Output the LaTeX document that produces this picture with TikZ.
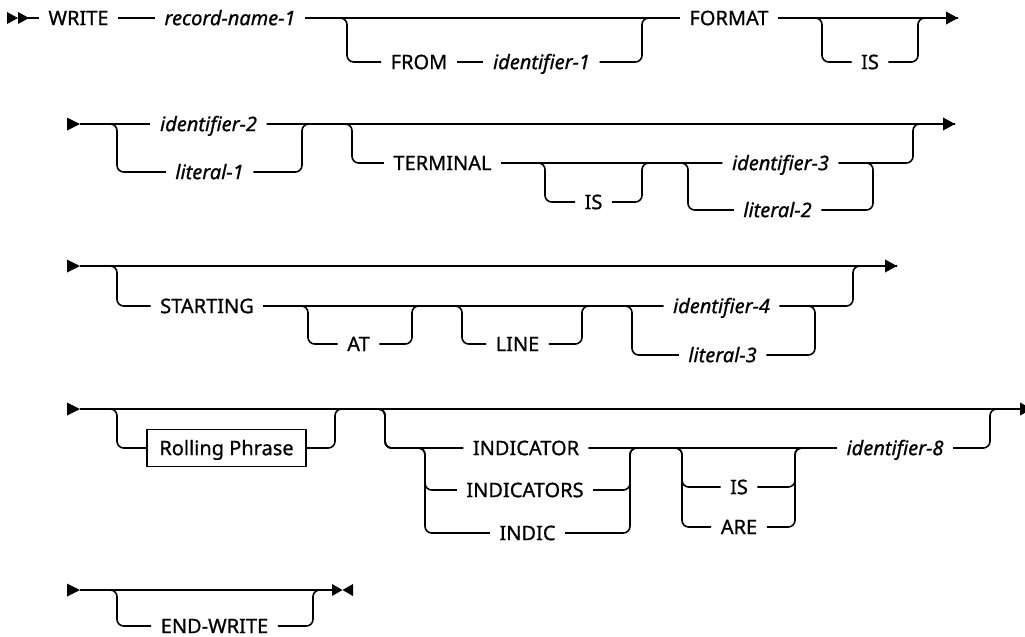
\documentclass[tikz,border=0pt]{standalone}
\usepackage{fontspec}
\newfontfamily\diafont[FakeBold=0.8]{Noto Sans}
\usetikzlibrary{arrows.meta}
\begin{document}
\begin{tikzpicture}[x=0.75pt,y=-0.75pt,
  ln/.style={line width=1.2pt},
  rr/.style={line width=1.2pt,rounded corners=5pt},
  arr/.style={line width=1.2pt,-{Triangle[length=9pt,width=9.5pt]}},
  kw/.style={font=\diafont\bfseries\fontsize{15pt}{18pt}\selectfont,inner xsep=7pt,inner ysep=0pt,text height=10.7pt,text depth=0pt},
  var/.style={kw,font=\diafont\bfseries\itshape\fontsize{15pt}{18pt}\selectfont},
  box/.style={kw,draw,line width=1.2pt,minimum width=119pt,minimum height=27.5pt,inner xsep=0pt},
  tri/.style={fill=black}]
\fill[white] (0,0) rectangle (1025,636);
\useasboundingbox (0,0) rectangle (1025,636);
% ---------- Row 1 ----------
\fill[tri] (7,12) -- (18,18) -- (7,24) -- cycle;
\fill[tri] (18,12) -- (29,18) -- (18,24) -- cycle;
\coordinate (s1) at (28,18);
\node[kw] (write) at (78.5,18) {WRITE};
\node[var] (rec) at (230,18) {record-name-1};
\node[kw] (from) at (419,62) {FROM};
\node[var] (id1) at (541.5,62) {identifier-1};
\node[kw] (fmt) at (729,18) {FORMAT};
\node[kw] (is1) at (870,62) {IS};
\coordinate (e1) at (958,18);
\draw[ln] (s1) -- (write.west);
\draw[ln] (write.east) -- (rec.west);
\draw[ln] (rec.east) -- (fmt.west);
\draw[rr] (rec.east) -| (347,62) -- (from.west);
\draw[ln] (from.east) -- (id1.west);
\draw[rr] (id1.east) -| (642,18) -- (fmt.west);
\draw[arr] (fmt.east) -- (e1);
\draw[rr] (fmt.east) -| (822,62) -- (is1.west);
\draw[rr] (is1.east) -| (918,18) -- (e1);
% ---------- Row 2 ----------
\fill[tri] (67,117.5) -- (80,124) -- (67,130.5) -- cycle;
\coordinate (s2) at (80,124);
\node[var] (id2) at (208.5,124) {identifier-2};
\node[var] (lit1) at (209.5,172) {literal-1};
\node[kw] (term) at (442.5,163) {TERMINAL};
\node[kw] (is2) at (593.5,202) {IS};
\node[var] (id3) at (780.5,163) {identifier-3};
\node[var] (lit2) at (777.5,210) {literal-2};
\coordinate (e2) at (955,124);
\draw[ln] (s2) -- (id2.west);
\draw[arr] (id2.east) -- (e2);
\draw[rr] (s2) -| (117,172) -- (lit1.west);
\draw[rr] (lit1.east) -| (302,124) -- (id2.east -| e2);
\draw[rr] (id2.east) -| (352,163) -- (term.west);
\draw[ln] (term.east) -- (id3.west);
\draw[rr] (term.east) -| (545,202) -- (is2.west);
\draw[rr] (is2.east) -| (642,163) -- (id3.west);
\draw[rr] (term.east) -| (688,210) -- (lit2.west);
\draw[rr] (lit2.east) -| (873,163) -- (id3.east);
\draw[rr] (id3.east) -| (913,124) -- (e2);
% ---------- Row 3 ----------
\fill[tri] (67,259.5) -- (80,266) -- (67,272.5) -- cycle;
\coordinate (s3) at (80,266);
\node[kw] (start) at (207,306) {STARTING};
\node[kw] (at) at (358.5,344) {AT};
\node[kw] (line) at (517.5,344) {LINE};
\node[var] (id4) at (721.5,306) {identifier-4};
\node[var] (lit3) at (722.5,355) {literal-3};
\coordinate (e3) at (897,266);
\draw[arr] (s3) -- (e3);
\draw[rr] (s3) -| (117,306) -- (start.west);
\draw[ln] (start.east) -- (id4.west);
\draw[rr] (start.east) -| (308,344) -- (at.west);
\draw[rr] (at.east) -| (412,306) -- (id4.west);
\draw[rr] (start.east) -| (462,344) -- (line.west);
\draw[rr] (line.east) -| (582,306) -- (id4.west);
\draw[rr] (start.east) -| (632,355) -- (lit3.west);
\draw[rr] (lit3.east) -| (815,306) -- (id4.east);
\draw[rr] (id4.east) -| (853,266) -- (e3);
% ---------- Row 4 ----------
\fill[tri] (67,402.5) -- (80,409) -- (67,415.5) -- cycle;
\coordinate (s4) at (80,409);
\node[box] (rp) at (226.5,448) {Rolling Phrase};
\node[kw] (ind) at (526,448) {INDICATOR};
\node[kw] (inds) at (525,490) {INDICATORS};
\node[kw] (indic) at (527.5,533) {INDIC};
\node[kw] (is4) at (739,487) {IS};
\node[kw] (are) at (739,527) {ARE};
\node[var] (id8) at (895,448) {identifier-8};
\coordinate (e4) at (1032,409);
\draw[arr] (s4) -- (e4);
\draw[rr] (s4) -| (117,448) -- (rp.west);
\draw[rr] (rp.east) -| (335,409) -- (e4);
\draw[rr] (s4) -| (385,448) -- (ind.west);
\draw[rr] (s4) -| (385,448) -| (425,490) -- (inds.west);
\draw[rr] (s4) -| (385,448) -| (425,533) -- (indic.west);
\draw[ln] (ind.east) -- (id8.west);
\draw[rr] (inds.east) -| (630,448) -- (id8.west);
\draw[rr] (indic.east) -| (630,448) -- (id8.west);
\draw[rr] (ind.east) -| (682,487) -- (is4.west);
\draw[rr] (ind.east) -| (682,527) -- (are.west);
\draw[rr] (is4.east) -| (795,448) -- (id8.west);
\draw[rr] (are.east) -| (795,448) -- (id8.west);
\draw[rr] (id8.east) -| (990,409) -- (e4);
% ---------- Row 5 ----------
\fill[tri] (67,583.5) -- (80,590) -- (67,596.5) -- cycle;
\coordinate (s5) at (80,590);
\node[kw] (ew) at (214.5,626) {END-WRITE};
\coordinate (e5) at (332,590);
\draw[ln] (s5) -- (e5);
\draw[rr] (s5) -| (117,626) -- (ew.west);
\draw[rr] (ew.east) -| (313,590) -- (e5);
\fill[tri] (332,584) -- (342.5,590) -- (332,596) -- cycle;
\fill[tri] (353,584) -- (342.5,590) -- (353,596) -- cycle;
\end{tikzpicture}
\end{document}
